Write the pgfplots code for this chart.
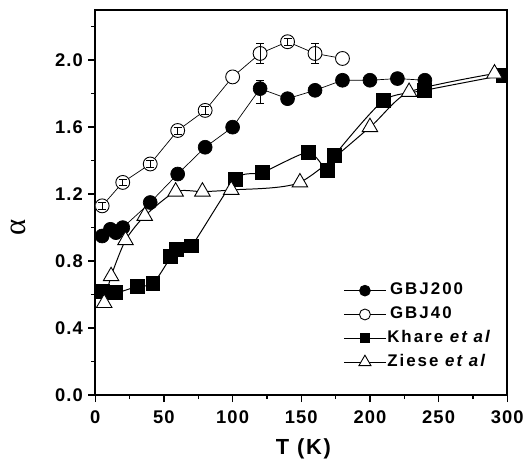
\documentclass[border=0pt]{standalone}
\usepackage{fontspec}
\setmainfont{Liberation Sans}
\newfontfamily\spaced[LetterSpace=6]{Liberation Sans}
\newfontfamily\xlabfont[LetterSpace=8]{Liberation Sans}
\newfontfamily\legspaced[LetterSpace=12]{Liberation Sans}
\newfontfamily\serifalpha{Liberation Serif}
\usepackage{pgfplots}
\pgfplotsset{compat=1.18}

\begin{document}
\begin{tikzpicture}
\begin{axis}[
    scale only axis, width=415pt, height=388pt,
    xmin=0, xmax=300, ymin=0, ymax=2.3,
    xtick={0,50,...,300}, minor xtick={25,75,...,275},
    ytick={0,0.4,0.8,1.2,1.6,2.0}, minor ytick={0.2,0.6,1.0,1.4,1.8,2.2},
    yticklabel style={xshift=-2pt, /pgf/number format/.cd, fixed, fixed zerofill, precision=1},
    /pgf/number format/assume math mode=true,
    ticklabel style={font=\spaced\bfseries\fontsize{18.5}{20}\selectfont},
    xticklabel style={yshift=-5pt},
    tick align=outside, xtick pos=bottom, ytick pos=left,
    major tick length=7pt, minor tick length=4pt,
    every tick/.style={black, line width=1.5pt},
    axis line style={line width=2pt},
    xlabel={T (K)},
    xlabel style={font=\xlabfont\bfseries\fontsize{22}{24}\selectfont,
        at={(axis description cs:0.505,-0.14)}, anchor=center},
    ylabel={α},
    ylabel style={font=\serifalpha\fontsize{31}{33}\selectfont,
        at={(axis description cs:-0.186,0.436)}, anchor=center},
    clip marker paths=true,
    legend style={draw=none, fill=none, at={(0.595,0.30)}, anchor=north west,
        font=\legspaced\bfseries\fontsize{17}{18}\selectfont,
        row sep=6pt, nodes={inner sep=1pt, text height=12pt, text depth=4pt}},
    legend cell align=left,
    legend image code/.code={\draw[mark repeat=2, mark phase=2, #1]
        plot coordinates {(0pt,0pt) (21pt,0pt) (42pt,0pt)};},
    error bars/error bar style={line width=0.6pt, draw=black, solid},
    error bars/error mark options={rotate=90, mark size=4pt, line width=0.6pt, draw=black},
]
\coordinate (sw) at (rel axis cs:0,0);
\coordinate (ne) at (rel axis cs:1,1);

% GBJ200
\addplot[black, line width=0.7pt, mark=*, mark size=7pt,
    legend image post style={mark size=5.5pt}] coordinates {
    (5,0.95) (11,0.99) (15,0.97) (20,1.00) (40,1.15) (60,1.32) (80,1.48)
    (100,1.60) (120,1.83) (140,1.77) (160,1.82) (180,1.88)
    (200,1.88) (220,1.89) (240,1.88)
};
\addlegendentry{\,GBJ200}

% GBJ40
\addplot[black, line width=0.7pt, mark=*, mark size=7pt,
    mark options={fill=white, line width=0.9pt},
    legend image post style={mark size=5.5pt}] coordinates {
    (5,1.13) (20,1.27) (40,1.38) (60,1.58) (80,1.70) (100,1.90)
    (120,2.04) (140,2.11) (160,2.04) (180,2.01)
};
\addlegendentry{\,GBJ40}

% error bars drawn over the open and filled circles
\addplot[forget plot, draw=none, mark=none,
    error bars/.cd, y dir=both, y explicit] coordinates {
    (5,1.13) +- (0,0.02) (20,1.27) +- (0,0.02) (40,1.38) +- (0,0.02)
    (60,1.58) +- (0,0.02) (80,1.70) +- (0,0.025)
    (120,2.04) +- (0,0.06) (140,2.11) +- (0,0.02) (160,2.04) +- (0,0.06)
    (120,1.81) +- (0,0.07)
};

% Khare et al
\addplot[black, line width=1pt, smooth, tension=0.4, mark=square*, mark size=7pt,
    mark options={solid}, legend image post style={mark size=4.5pt}] coordinates {
    (5,0.62) (15,0.61) (31,0.65) (42,0.665) (55,0.825) (59,0.87) (70,0.89)
    (102,1.29) (122,1.33) (155,1.45) (169,1.34) (174,1.43) (210,1.76)
    (240,1.82) (297,1.91)
};
\addlegendentry{Khare \textit{et al}}

% Ziese et al
\addplot[black, line width=1pt, smooth, tension=0.4, mark=triangle*, mark size=9pt,
    mark options={fill=white, line width=0.9pt},
    legend image post style={mark size=7pt}] coordinates {
    (6.5,0.55) (11.5,0.71) (22,0.925) (36,1.07) (58.5,1.215) (78,1.215)
    (99,1.225) (149,1.27) (200,1.60) (228.5,1.81) (290.7,1.92)
};
\addlegendentry{Ziese \textit{et al}}
\end{axis}
\path ([shift={(-96pt,-63pt)}]sw) rectangle ([shift={(16pt,10pt)}]ne);
\end{tikzpicture}
\end{document}
